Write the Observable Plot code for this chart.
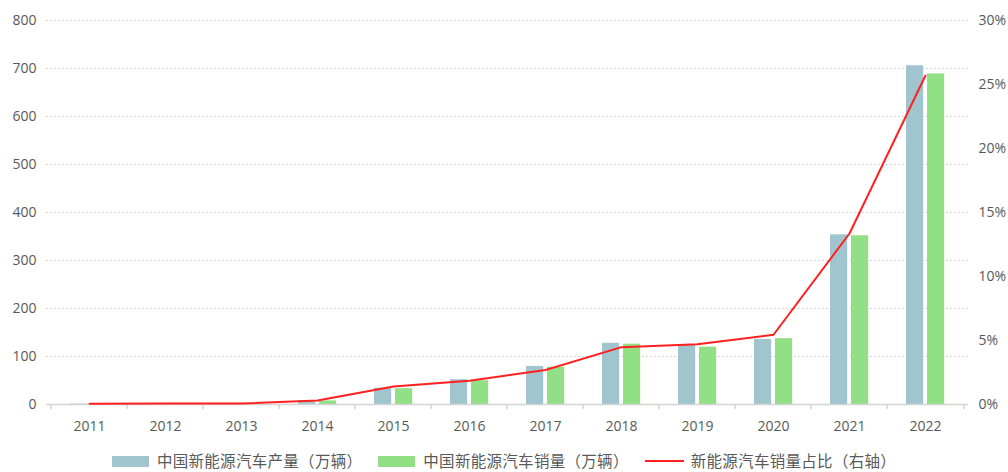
<!DOCTYPE html>
<html>
<head>
<meta charset="utf-8">
<script src="https://cdn.jsdelivr.net/npm/d3@7"></script>
<script src="https://cdn.jsdelivr.net/npm/@observablehq/plot@0.6"></script>
<style>
  html, body { margin: 0; padding: 0; background: #fff; overflow: hidden; }
  #chart svg { display: block; }
  #legend { display: flex; justify-content: center; align-items: center; padding-top: 8px; height: 16px;
    font-family: "Noto Sans CJK SC", sans-serif; font-size: 15.5px; line-height: 1; color: #595959; }
  .item { display: flex; align-items: center; margin: 0 8px; }
  .item span { line-height: 1; display: block; letter-spacing: 0.3px; }
  .sw { width: 37px; height: 11px; margin-right: 8px; }
  .ln { width: 39px; height: 2px; background: #ff2020; margin-right: 7px; }
</style>
</head>
<body>
<div id="chart"></div>
<div id="legend"></div>
<script>
const years = ["2011","2012","2013","2014","2015","2016","2017","2018","2019","2020","2021","2022"];
const production = [0.84,1.26,1.75,7.85,34.05,51.7,79.4,127.5,124,135.5,353.5,705.8];
const sales = [0.82,1.28,1.76,7.48,33.11,49.5,77.7,125.7,119.5,137.2,351.5,688.7];
const share = [0.06,0.07,0.08,0.32,1.4,1.85,2.7,4.48,4.7,5.45,13.36,25.7];
const leftTicks = [0,100,200,300,400,500,600,700,800];
const rightTicks = [0,5,10,15,20,25,30];
const seriesNames = ["中国新能源汽车产量（万辆）","中国新能源汽车销量（万辆）","新能源汽车销量占比（右轴）"];
const colors = ["#a0c5ce","#92e085","#ff2020"];

const W = 1008, H = 445, mL = 46, mR = 40, mT = 20, mB = 41;
const bw = (W - mL - mR) / years.length;
const yMax = 800, rMax = 30;

const rows = years.map((y, i) => ({year: y, production: production[i], sales: sales[i], share: share[i], shareY: share[i] * yMax / rMax}));

const chart = Plot.plot({
  width: W, height: H,
  marginLeft: mL, marginRight: mR, marginTop: mT, marginBottom: mB,
  style: {fontFamily: "'Open Sans', sans-serif", fontSize: "14px", color: "#595959", background: "#fff"},
  x: {type: "band", domain: years, padding: 0},
  y: {domain: [0, yMax]},
  marks: [
    Plot.gridY(leftTicks.filter(d => d > 0), {stroke: "#c4c4c4", strokeOpacity: 1, strokeDasharray: "1.5,2.5"}),
    Plot.barY(rows, {x: "year", y: "production", fill: colors[0], insetLeft: 19, insetRight: bw - 37}),
    Plot.barY(rows, {x: "year", y: "sales", fill: colors[1], insetLeft: 40, insetRight: bw - 58}),
    Plot.ruleY([0], {stroke: "#d4d4d4", strokeWidth: 1.5}),
    Plot.ruleX(years, {x: d => d, dx: -bw / 2, y1: 0, y2: -11, stroke: "#d4d4d4", strokeWidth: 1.5}),
    Plot.ruleX([years[years.length - 1]], {x: d => d, dx: bw / 2, y1: 0, y2: -11, stroke: "#d4d4d4", strokeWidth: 1.5}),
    Plot.lineY(rows, {x: "year", y: "shareY", stroke: colors[2], strokeWidth: 2, curve: "linear"}),
    Plot.axisY({ticks: leftTicks, tickSize: 0, tickPadding: 10, label: null}),
    Plot.axisY({anchor: "right", ticks: rightTicks.map(p => p * yMax / rMax), tickFormat: d => Math.round(d * rMax / yMax) + "%", tickSize: 0, tickPadding: 10, label: null}),
    Plot.axisX({tickSize: 0, tickPadding: 17, label: null})
  ]
});
document.getElementById("chart").appendChild(chart);

const legend = document.getElementById("legend");
seriesNames.forEach((name, i) => {
  const it = document.createElement("div");
  it.className = "item";
  const s = document.createElement("div");
  if (i < 2) { s.className = "sw"; s.style.background = colors[i]; }
  else { s.className = "ln"; s.style.background = colors[i]; }
  it.appendChild(s);
  const t = document.createElement("span");
  t.textContent = name;
  it.appendChild(t);
  legend.appendChild(it);
});
</script>
</body>
</html>
